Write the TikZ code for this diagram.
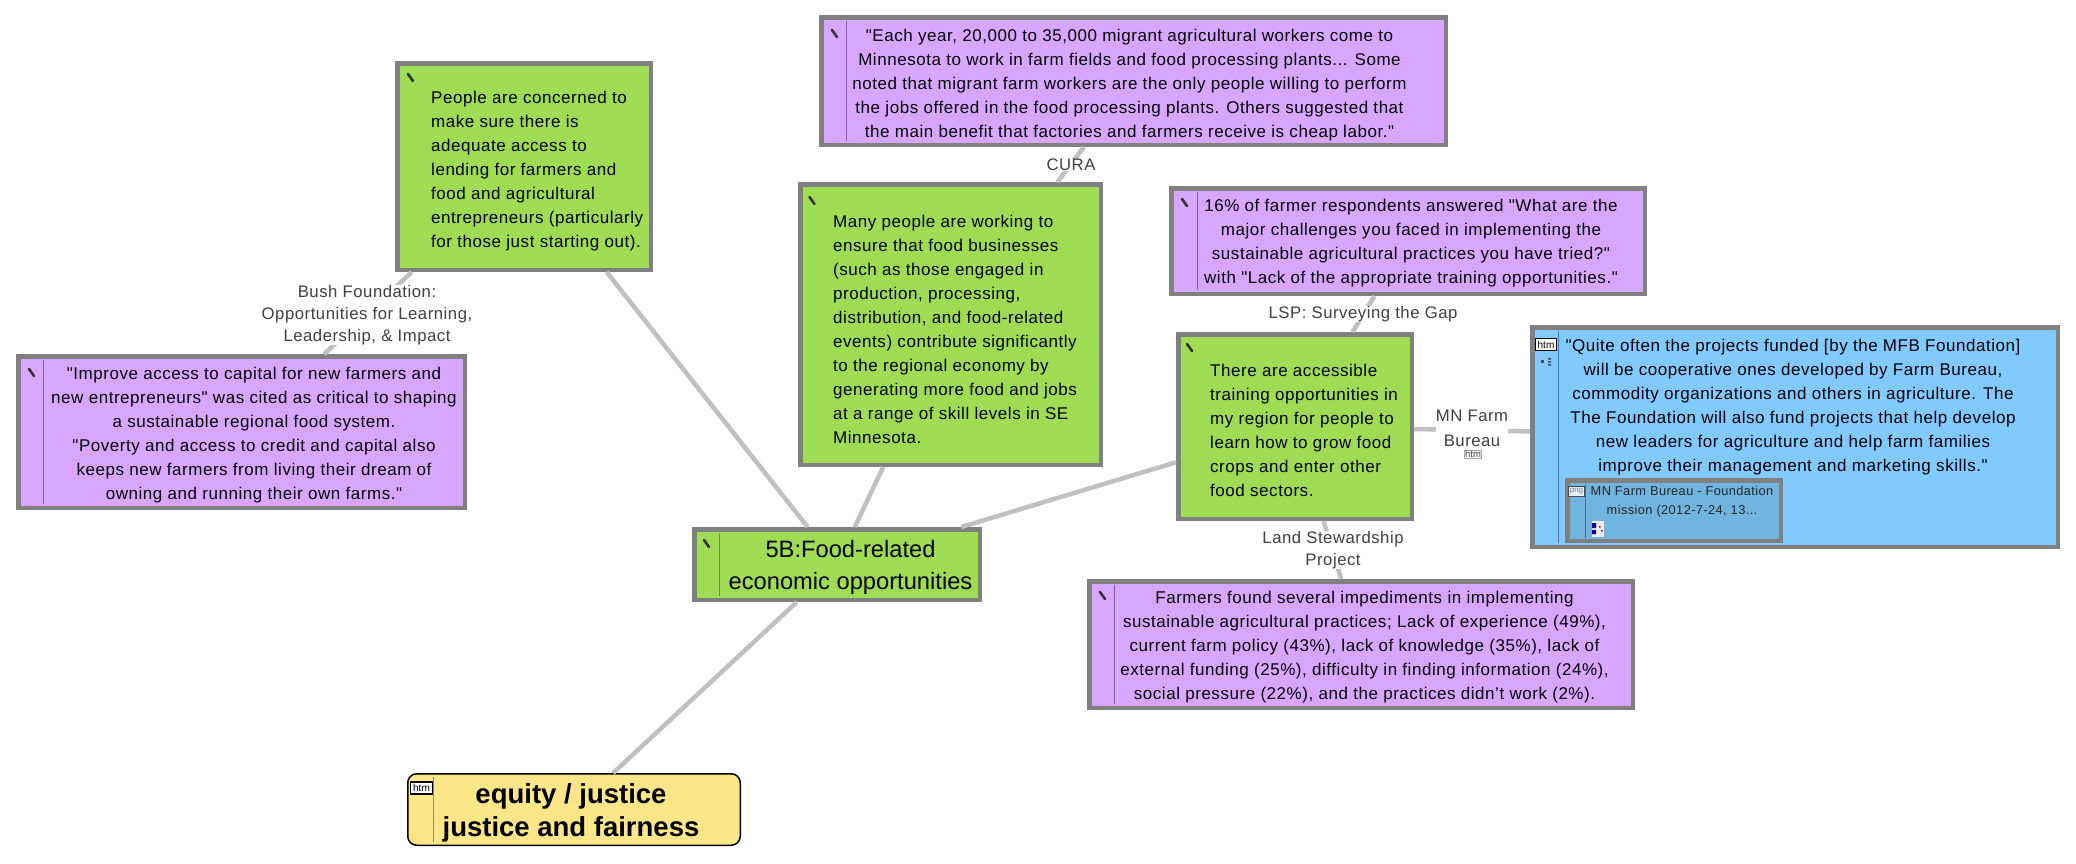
\documentclass[tikz,border=0pt]{standalone}
\usepackage{fontspec}
\newfontfamily\bodyf[LetterSpace=3.2]{Liberation Sans}
\newfontfamily\plainf{Liberation Sans}
\definecolor{grn}{HTML}{9EDC53}
\definecolor{pur}{HTML}{D9A6FF}
\definecolor{blu}{HTML}{80CAFF}
\definecolor{blud}{HTML}{6FB5E0}
\definecolor{yel}{HTML}{FDE688}
\definecolor{edgeg}{HTML}{808080}
\definecolor{conn}{HTML}{C0C0C0}
\definecolor{lab}{HTML}{404040}
\tikzset{
  base/.style={draw=edgeg,line width=4.5pt,inner sep=0pt,rectangle},
  grnbox/.style={base,fill=grn},
  purbox/.style={base,fill=pur},
  blubox/.style={base,fill=blu},
  innerbox/.style={base,fill=blud},
  yelbox/.style={draw=black,line width=1.5pt,inner sep=0pt,rectangle,rounded corners=9pt,fill=yel},
  body/.style={inner sep=0pt,align=center,text=black,font=\bodyf\fontsize{17}{24}\selectfont,yshift=-1.5pt},
  bodyl/.style={body,align=left,anchor=west},
  big/.style={inner sep=0pt,align=center,text=black,font=\plainf\fontsize{23.7}{32}\selectfont},
  bigb/.style={inner sep=0pt,align=center,text=black,font=\plainf\bfseries\fontsize{27.5}{33}\selectfont},
  small/.style={inner sep=0pt,align=center,text=black!85,font=\bodyf\fontsize{12.8}{18.5}\selectfont},
  linkl/.style={fill=white,inner xsep=0pt,inner ysep=0pt,align=center,text=lab,font=\bodyf\fontsize{16.7}{22}\selectfont},
  link/.style={draw=conn,line width=4.5pt},
  sep/.style={line width=1pt},
  filetag/.style={draw=black,line width=1pt,fill=white,inner sep=0pt,text=black,font=\plainf\fontsize{10}{10}\selectfont,anchor=center},
  pen/.style={draw=black!80,line width=2.6pt,line cap=round}
}
\newcommand{\boxat}[6]{\node[#6,minimum width={(#4-#2-4.5)*1pt},minimum height={(#5-#3-4.5)*1pt}] (#1) at ({(#2+#4)/2},{(#3+#5)/2}) {};}
\newcommand{\pencil}[2]{\draw[pen] (#1,#2) -- ++(5,7);}
\begin{document}
\begin{tikzpicture}[x=1pt,y=-1pt]
\useasboundingbox (0,0) rectangle (2076,863);
% boxes
\boxat{lend}{395}{61}{653}{272}{grnbox}
\boxat{cap}{16}{354}{467}{510}{purbox}
\boxat{migr}{819}{15}{1448}{147}{purbox}
\boxat{biz}{798}{182}{1103}{467}{grnbox}
\boxat{resp}{1169}{186}{1647}{296}{purbox}
\boxat{train}{1176}{332}{1414}{521}{grnbox}
\boxat{imped}{1087}{579}{1635}{710}{purbox}
\boxat{mfb}{1530}{325}{2060}{549}{blubox}
\boxat{core}{692}{527}{982}{602}{grnbox}
\node[yelbox,minimum width=332.5pt,minimum height=71.5pt] (eq) at (574,809.5) {};
% connectors
\draw[link] (lend) -- (core);
\draw[link] (biz) -- (core);
\draw[link] (train) -- (core);
\draw[link] (eq) -- (core);
\draw[link] (lend) -- (cap);
\draw[link] (migr) -- (biz);
\draw[link] (resp) -- (train);
\draw[link] (train) -- (imped);
\draw[link] (train) -- (mfb);
% connector labels
\node[linkl] (lbush) at (367,315) {Bush Foundation:\\Opportunities for Learning,\\Leadership, \& Impact};
\node[linkl] (lcura) at (1071,165) {CURA};
\node[linkl] (llsp) at (1363,314) {LSP: Surveying the Gap};
\node[linkl] (lfarm) at (1472,428.5) {MN Farm\\[3pt]Bureau};
\node[draw=black!35,line width=.6pt,inner sep=.5pt,text=lab,font=\plainf\fontsize{9.5}{9.5}\selectfont] (lfarmtag) at (1473,454) {htm};
\node[linkl] (lland) at (1333,550) {Land Stewardship\\Project};
% separators
\draw[sep,draw=pur!60!black] (43,360) -- (43,504);
\draw[sep,draw=pur!60!black] (846.5,21) -- (846.5,141);
\draw[sep,draw=pur!60!black] (1197,192) -- (1197,290);
\draw[sep,draw=pur!60!black] (1114,585) -- (1114,704);
\draw[sep,draw=grn!65!black] (719,533) -- (719,596);
\draw[sep,draw=blu!60!black] (1558.5,331) -- (1558.5,543);
\draw[sep,draw=yel!60!black] (433,777) -- (433,842);
% pencils
\pencil{408}{74}
\pencil{29}{369}
\pencil{832}{30}
\pencil{809.5}{197}
\pencil{1182}{199}
\pencil{1187}{344}
\pencil{1100}{592}
\pencil{704}{540}
% texts
\node[bodyl] (tlend) at (431,170) {People are concerned to\\make sure there is\\adequate access to\\lending for farmers and\\food and agricultural\\entrepreneurs (particularly\\for those just starting out).};
\node[body] (tcap) at (254,434) {"Improve access to capital for new farmers and\\new entrepreneurs" was cited as critical to shaping\\a sustainable regional food system.\\"Poverty and access to credit and capital also\\keeps new farmers from living their dream of\\owning and running their own farms."};
\node[body] (tmigr) at (1129.5,84) {"Each year, 20,000 to 35,000 migrant agricultural workers come to\\Minnesota to work in farm fields and food processing plants... Some\\noted that migrant farm workers are the only people willing to perform\\the jobs offered in the food processing plants. Others suggested that\\the main benefit that factories and farmers receive is cheap labor."};
\node[bodyl] (tbiz) at (833,328) {Many people are working to\\ensure that food businesses\\(such as those engaged in\\production, processing,\\distribution, and food-related\\events) contribute significantly\\to the regional economy by\\generating more food and jobs\\at a range of skill levels in SE\\Minnesota.};
\node[body] (tresp) at (1411,242) {16\% of farmer respondents answered "What are the\\major challenges you faced in implementing the\\sustainable agricultural practices you have tried?"\\with "Lack of the appropriate training opportunities."};
\node[bodyl] (ttrain) at (1210,429) {There are accessible\\training opportunities in\\my region for people to\\learn how to grow food\\crops and enter other\\food sectors.};
\node[body] (timped) at (1364.5,646) {Farmers found several impediments in implementing\\sustainable agricultural practices; Lack of experience (49\%),\\current farm policy (43\%), lack of knowledge (35\%), lack of\\external funding (25\%), difficulty in finding information (24\%),\\social pressure (22\%), and the practices didn’t work (2\%).};
\node[body] (tmfb) at (1793,405.5) {"Quite often the projects funded [by the MFB Foundation]\\will be cooperative ones developed by Farm Bureau,\\commodity organizations and others in agriculture. The\\The Foundation will also fund projects that help develop\\new leaders for agriculture and help farm families\\improve their management and marketing skills."};
\node[big] (tcore) at (850.5,567) {5B:Food-related\\economic opportunities};
\node[bigb] (teq) at (571,813) {equity / justice\\justice and fairness};
% blue box details
\node[filetag,minimum width=21pt,minimum height=12pt] (htmmfb) at (1546,344.5) {htm};
\fill[black!70] (1541,360) rectangle ++(3,3);
\fill[black!70] (1548,358) rectangle ++(3,1.5) (1548,361) rectangle ++(3,1.5) (1548,364) rectangle ++(3,1.5);
\boxat{shot}{1565}{478}{1783}{543}{innerbox}
\draw[sep,draw=blud!60!black] (1585.5,484) -- (1585.5,538);
\node[filetag,draw=black!70,fill=white!80!blud,text=black!50,minimum width=16pt,minimum height=10pt,font=\plainf\fontsize{8}{8}\selectfont] (pngtag) at (1576.5,491.5) {png};
\node[small] (tshot) at (1682,501.5) {MN Farm Bureau - Foundation\\mission (2012-7-24, 13...};
\fill[white!92!black] (1592,521) rectangle (1604,537);
\fill[blue!50!black] (1592,523) rectangle (1596,528) (1592,530) rectangle (1596,534);
\fill[red!70!black] (1599,526) rectangle ++(1.5,1.5) (1601,530) rectangle ++(1.5,1.5);
% yellow tag
\node[filetag,line width=1.2pt,minimum width=22pt,minimum height=12pt] (htmeq) at (421.5,788) {htm};
\end{tikzpicture}
\end{document}
